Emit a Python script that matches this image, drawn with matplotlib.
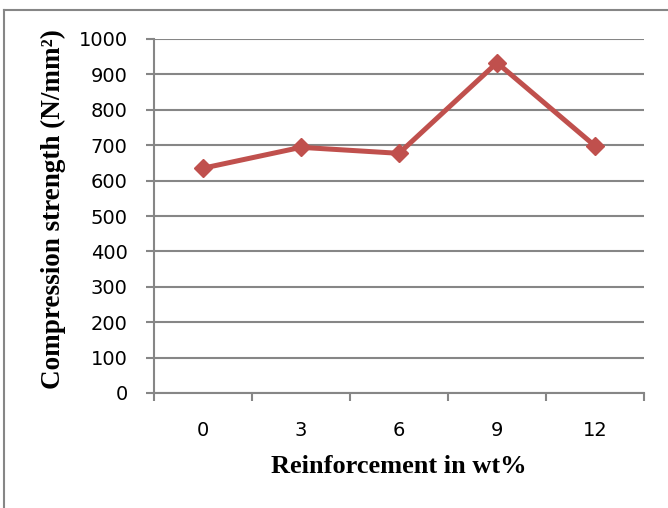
import matplotlib
matplotlib.use("Agg")
from matplotlib import pyplot as plt
from matplotlib.lines import Line2D

plt.rcParams["font.family"] = "DejaVu Sans"
plt.rcParams["font.size"] = 14

# data
reinforcement = ["0", "3", "6", "9", "12"]
strength = [635, 694, 677, 933, 698]
y_ticks = [0, 100, 200, 300, 400, 500, 600, 700, 800, 900, 1000]

line_color = "#C0504D"
grid_color = "#868686"

fig = plt.figure(figsize=(6.68, 5.08), dpi=100)
ax = fig.add_axes([154 / 668, 1 - 393 / 508, 490 / 668, 354 / 508])

x = list(range(len(reinforcement)))
ax.plot(x, strength, color=line_color, lw=3.6, marker="D", markersize=9,
        markeredgecolor=line_color, zorder=3, solid_joinstyle="miter")

ax.set_xlim(-0.5, len(reinforcement) - 0.5)
ax.set_ylim(0, 1000)

# horizontal grid
ax.set_yticks(y_ticks)
ax.yaxis.grid(True, color=grid_color, lw=1.5)
ax.set_axisbelow(True)

# category boundaries get tick marks, centres get labels
ax.set_xticks([i - 0.5 for i in range(len(reinforcement) + 1)])
ax.set_xticklabels([])
ax.set_xticks(x, minor=True)
ax.set_xticklabels(reinforcement, minor=True)
ax.tick_params(axis="x", which="major", direction="out", length=5.5,
               width=1.5, color=grid_color)
ax.tick_params(axis="x", which="minor", length=0, pad=20, labelsize=14)
ax.tick_params(axis="y", direction="out", length=5.5, width=1.5,
               color=grid_color, pad=13.5, labelsize=14)

for s in ["top", "right"]:
    ax.spines[s].set_visible(False)
for s in ["left", "bottom"]:
    ax.spines[s].set_color(grid_color)
    ax.spines[s].set_linewidth(1.5)

ax.set_xlabel("Reinforcement in wt%", fontfamily="Liberation Serif",
              fontweight="bold", fontsize=19)
ax.xaxis.set_label_coords(0.5, -0.176)
ax.set_ylabel("Compression strength (N/mm²)",
              fontfamily="Liberation Serif", fontweight="bold", fontsize=19.5)
ax.yaxis.set_label_coords(-88 / 490, 0.52)

# chart frame (only top and left edges show in the reference)
fig.add_artist(Line2D([3.5 / 668, 1], [1 - 9.5 / 508] * 2, color=grid_color,
                      lw=1.5, transform=fig.transFigure))
fig.add_artist(Line2D([3.5 / 668] * 2, [0, 1 - 9.5 / 508], color=grid_color,
                      lw=1.5, transform=fig.transFigure))

fig.savefig("out.png", dpi=100)
